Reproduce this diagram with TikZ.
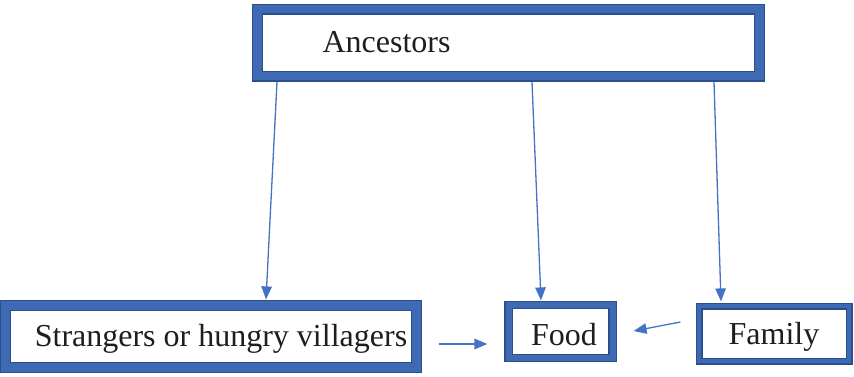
\documentclass[tikz,border=0pt]{standalone}
\usepackage{fontspec}
\setmainfont{Liberation Serif}
\usetikzlibrary{arrows.meta}
\definecolor{bandblue}{HTML}{3E6AB4}
\definecolor{edgeblue}{HTML}{2A4F8F}
\definecolor{arrowblue}{HTML}{4472C4}
\definecolor{inkgrey}{HTML}{1E1E1E}
\begin{document}
\begin{tikzpicture}[
		x=1pt, y=-1pt,
		box/.style={draw=edgeblue, line width=1.2pt, double=bandblue,
				double distance=#1, fill=white, inner sep=0pt},
		box/.default=8.6pt,
		word/.style={inner sep=0pt, text=inkgrey, font=\fontsize{32}{36}\selectfont},
		link/.style={arrowblue, line width=1.3pt,
				-{Triangle[length=13pt,width=10.5pt]}}
	]
	\useasboundingbox (0,0) rectangle (854,376);
	% boxes
	\node[box, minimum width=502pt, minimum height=67pt] (anc) at (508.5,42.5) {};
	\node[box, minimum width=411pt, minimum height=62pt] (str) at (211,336.5) {};
	\node[box=6pt, minimum width=104pt, minimum height=53pt] (food) at (560.5,331.5) {};
	\node[box=4.6pt, minimum width=150pt, minimum height=55pt] (fam) at (774,333.5) {};
	% texts
	\node[word, anchor=west] (anctext) at ([xshift=65.5pt]anc.west) {Ancestors};
	\node[word] (strtext) at ([xshift=10pt,yshift=-2pt]str.center) {Strangers or hungry villagers};
	\node[word] (foodtext) at ([xshift=3.5pt,yshift=-3.5pt]food.center) {Food};
	\node[word] (famtext) at ([yshift=-3.5pt]fam.center) {Family};
	% arrows
	\draw[link] ([xshift=-231.5pt,yshift=-5.5pt]anc.south) -- ([xshift=55pt,yshift=5.5pt]str.north);
	\draw[link] ([xshift=23.5pt,yshift=-5.5pt]anc.south) -- ([xshift=-19.5pt,yshift=4pt]food.north);
	\draw[link] ([xshift=205.5pt,yshift=-5.5pt]anc.south) -- ([xshift=-53pt,yshift=4pt]fam.north);
	\coordinate (strout) at ([xshift=21.5pt,yshift=-7.5pt]str.east);
	\coordinate (foodin) at ([xshift=-20.5pt,yshift=-12.5pt]food.west);
	\draw[link] (strout) -- (foodin);
	\coordinate (famout) at ([xshift=-18pt,yshift=11.5pt]fam.west);
	\coordinate (foodout) at ([xshift=20.5pt,yshift=0.5pt]food.east);
	\draw[link] (famout) -- (foodout);
\end{tikzpicture}
\end{document}
